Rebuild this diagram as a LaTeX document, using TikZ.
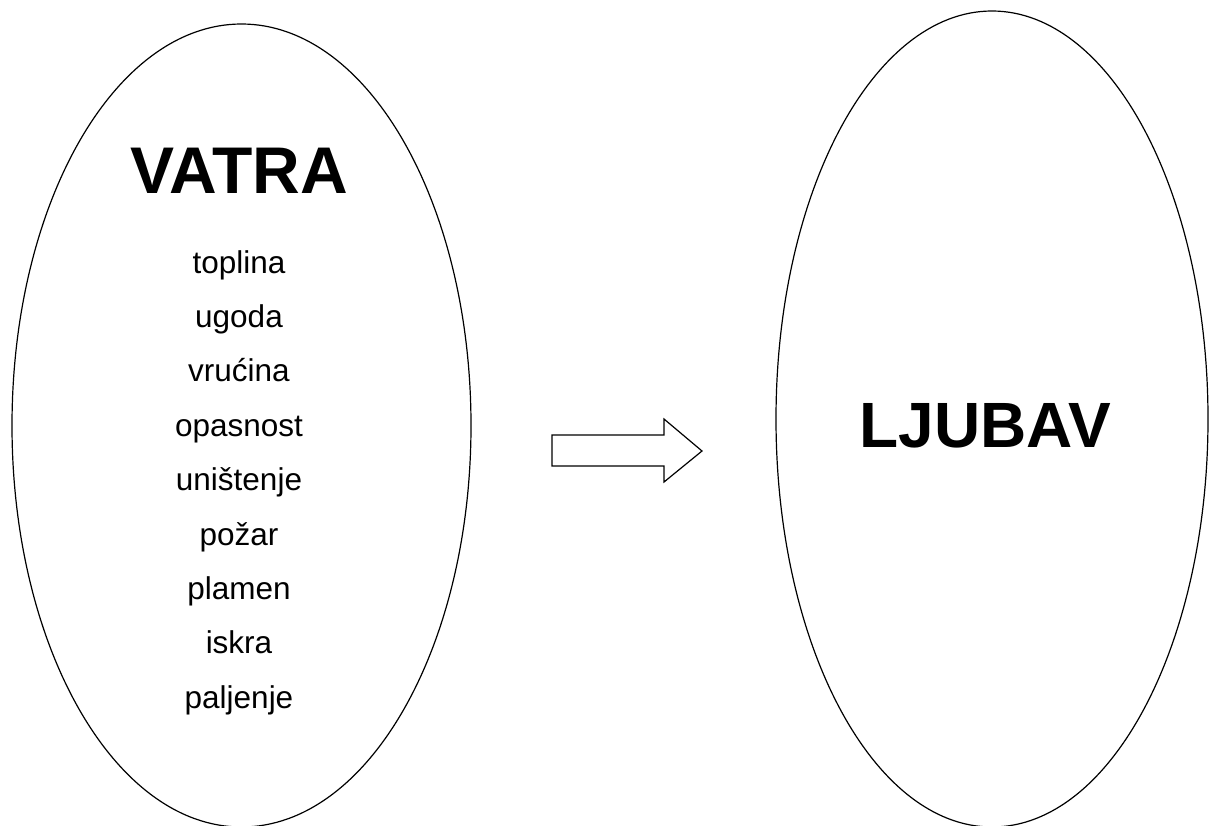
\documentclass[tikz,border=0pt]{standalone}
\usepackage{fontspec}
\setmainfont{Liberation Sans}
\usetikzlibrary{shapes.geometric}
\begin{document}
\begin{tikzpicture}[x=1pt,y=-1pt,
  oval/.style={draw,ellipse,line width=1.2pt,inner sep=0pt},
  bigword/.style={anchor=base,font=\fontsize{64}{64}\selectfont\bfseries,inner sep=0pt},
  listword/.style={anchor=base,font=\fontsize{31.5}{31.5}\selectfont,inner sep=0pt},
  blockarrow/.style={draw,line width=1.2pt,fill=white,line join=miter}]
\useasboundingbox (0,0) rectangle (1209,825);
\node[oval,minimum width=459pt,minimum height=803pt] (left) at (241.5,425.5) {};
\node[oval,minimum width=432pt,minimum height=816pt] (right) at (992,419) {};
\node[bigword,font=\fontsize{66}{66}\selectfont\bfseries] (vatra) at (239.5,193) {VATRA};
\node[bigword] (ljubav) at (985.5,447) {LJUBAV};
\foreach \w [count=\i from 0] in {toplina,ugoda,vrućina,opasnost,uništenje,požar,plamen,iskra,paljenje}{
  \node[listword] (w\i) at (239,273+54.4*\i) {\w};
}
\draw[blockarrow] (552,435) -- (664,435) -- (664,419) -- (702,451) -- (664,482) -- (664,466) -- (552,466) -- cycle;
\end{tikzpicture}
\end{document}
